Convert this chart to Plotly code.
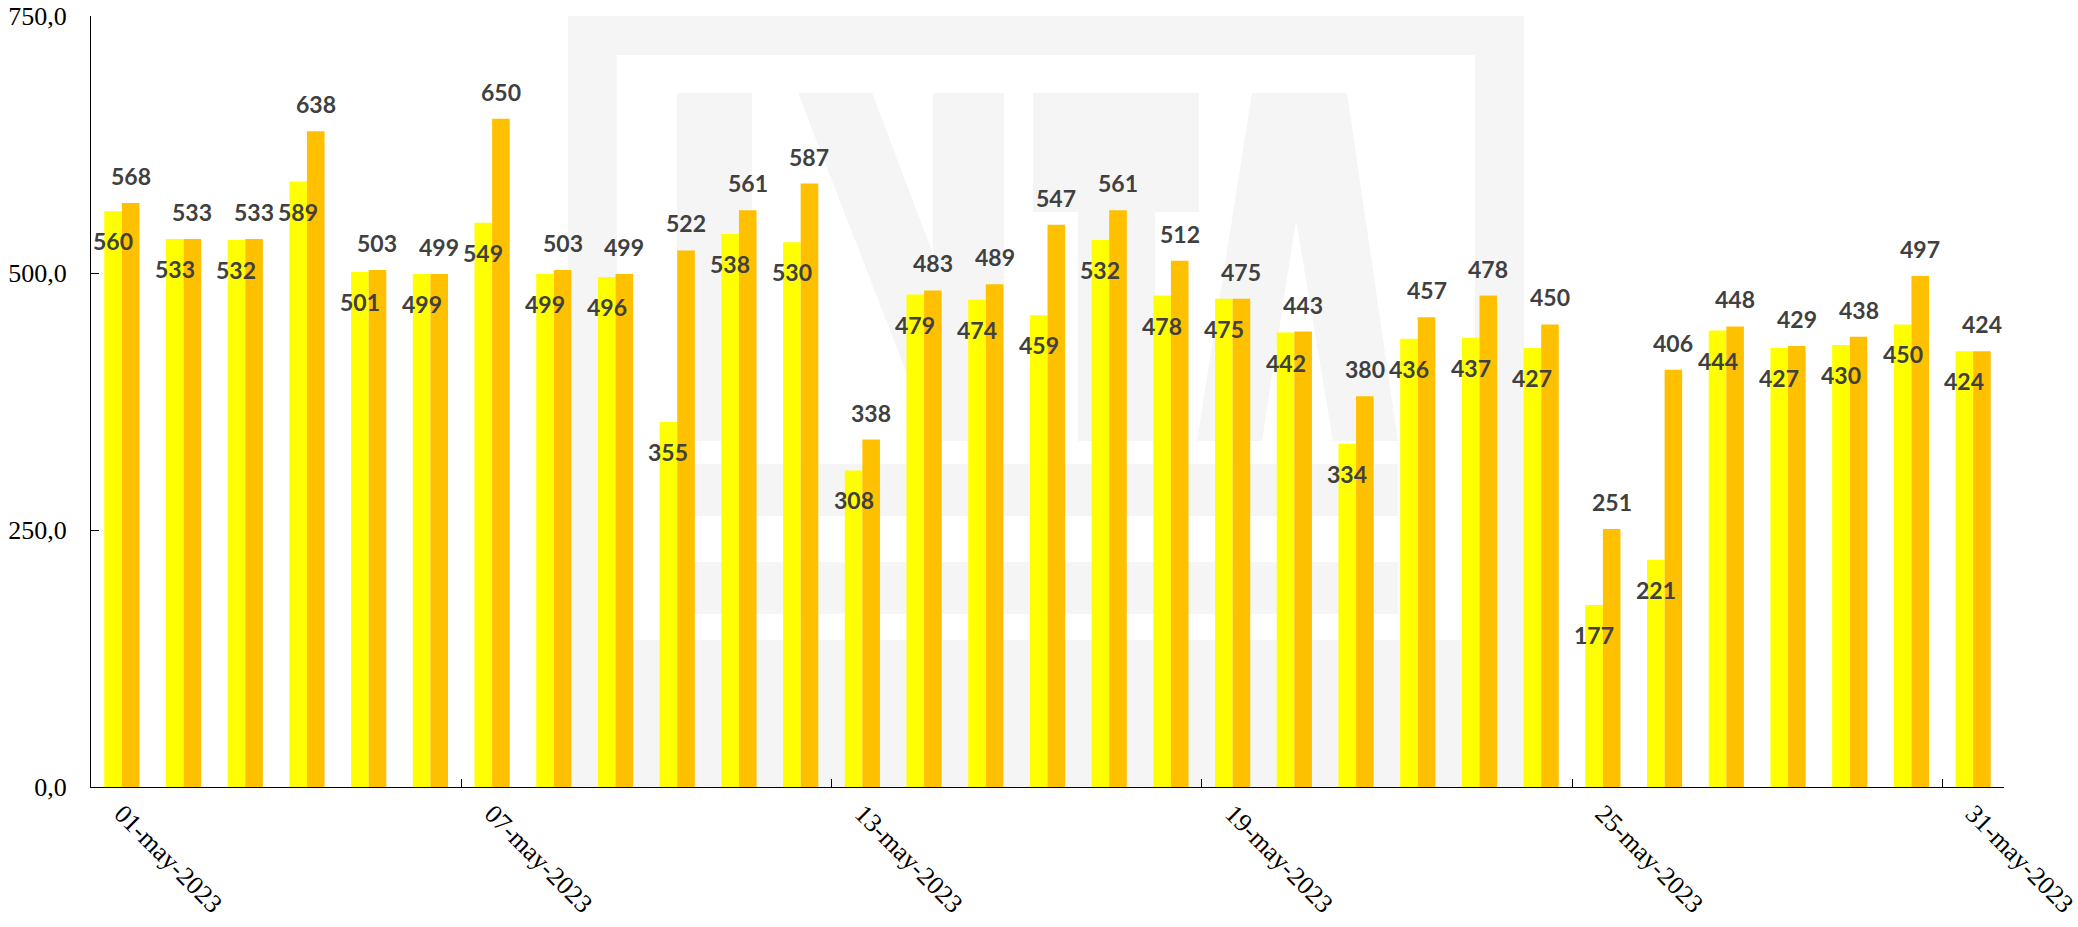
import plotly.graph_objects as go

# ---------------- data ----------------
dates = [
    "01-may-2023", "02-may-2023", "03-may-2023", "04-may-2023", "05-may-2023",
    "06-may-2023", "07-may-2023", "08-may-2023", "09-may-2023", "10-may-2023",
    "11-may-2023", "12-may-2023", "13-may-2023", "14-may-2023", "15-may-2023",
    "16-may-2023", "17-may-2023", "18-may-2023", "19-may-2023", "20-may-2023",
    "21-may-2023", "22-may-2023", "23-may-2023", "24-may-2023", "25-may-2023",
    "26-may-2023", "27-may-2023", "28-may-2023", "29-may-2023", "30-may-2023",
    "31-may-2023",
]
series_yellow = [560, 533, 532, 589, 501, 499, 549, 499, 496, 355,
                 538, 530, 308, 479, 474, 459, 532, 478, 475, 442,
                 334, 436, 437, 427, 177, 221, 444, 427, 430, 450, 424]
series_orange = [568, 533, 533, 638, 503, 499, 650, 503, 499, 522,
                 561, 587, 338, 483, 489, 547, 561, 512, 475, 443,
                 380, 457, 478, 450, 251, 406, 448, 429, 438, 497, 424]
shown_ticks = ["01-may-2023", "07-may-2023", "13-may-2023",
               "19-may-2023", "25-may-2023", "31-may-2023"]
y_ticks = [0, 250, 500, 750]

# ---------------- style ----------------
YELLOW = "#FFFF00"
ORANGE = "#FFC000"
LABEL_COLOR = "#404040"
WM = "#F5F5F5"
W, H = 2078, 927
ML, MR, MT, MB = 91, 74, 16, 140
BARGAP = 0.43

fig = go.Figure()
fig.add_bar(x=dates, y=series_yellow, marker=dict(color=YELLOW, line_width=0),
            name="serie 1", hoverinfo="x+y")
fig.add_bar(x=dates, y=series_orange, marker=dict(color=ORANGE, line_width=0),
            name="serie 2", hoverinfo="x+y")

# data labels
half = (1 - BARGAP) / 4.0
annos = []
lab_font = dict(family="Lato", size=23, color=LABEL_COLOR, weight="bold")
for i, (a, b) in enumerate(zip(series_yellow, series_orange)):
    annos.append(dict(x=i - half, y=a, xref="x", yref="y", text=str(a),
                      showarrow=False, yshift=-30, font=lab_font,
                      xanchor="center", yanchor="middle"))
    annos.append(dict(x=i + half, y=b, xref="x", yref="y", text=str(b),
                      showarrow=False, yshift=27, font=lab_font,
                      xanchor="center", yanchor="middle"))

# faint background watermark (decoration), pixel -> paper helper
pw = W - ML - MR
ph = H - MT - MB


def P(x, y):
    return ((x - ML) / pw, (H - MB - y) / ph)


def poly(pts, color):
    d = "M " + " L ".join(f"{P(x, y)[0]:.5f},{P(x, y)[1]:.5f}" for x, y in pts) + " Z"
    return dict(type="path", xref="paper", yref="paper", path=d,
                fillcolor=color, line_width=0, layer="below")


def rect(x0, y0, x1, y1, color):
    return poly([(x0, y0), (x1, y0), (x1, y1), (x0, y1)], color)


shapes = [
    rect(568, 16, 1524, 787, WM),          # outer frame
    rect(617, 55, 1475, 640, "#FFFFFF"),   # inner white
    rect(677, 93, 752, 441, WM),           # N left stem
    poly([(798, 93), (872, 93), (1004, 441), (933, 441)], WM),  # N diagonal
    rect(933, 93, 1004, 441, WM),          # N right stem
    rect(1033, 93, 1199, 212, WM),         # T bar
    rect(1078, 93, 1155, 441, WM),         # T stem
    poly([(1252, 93), (1347, 93), (1398, 441), (1197, 441)], WM),  # A
    poly([(1296, 220), (1333, 441), (1262, 441)], "#FFFFFF"),      # A counter
    rect(677, 464, 1398, 516, WM),         # stripes
    rect(677, 562, 1398, 614, WM),
]

fig.update_layout(
    width=W, height=H,
    margin=dict(l=ML, r=MR, t=MT, b=MB, pad=0),
    paper_bgcolor="white", plot_bgcolor="white",
    barmode="group", bargap=BARGAP, bargroupgap=0,
    showlegend=False,
    separators=",.",
    annotations=annos,
    shapes=shapes,
    xaxis=dict(
        type="category", tickmode="array", tickvals=shown_ticks,
        tickson="boundaries", ticks="inside", ticklen=8, tickcolor="black",
        tickwidth=1, showline=True, linecolor="black", linewidth=1,
        showgrid=False, tickangle=45, automargin=False,
        tickfont=dict(family="Liberation Serif", size=26, color="black"),
        ticklabelstandoff=0,
    ),
    yaxis=dict(
        range=[0, 750], tickmode="array", tickvals=y_ticks, tickformat=".1f",
        ticks="inside", ticklen=8, tickcolor="black", tickwidth=1,
        showline=True, linecolor="black", linewidth=1, showgrid=False,
        zeroline=False, automargin=False,
        tickfont=dict(family="Liberation Serif", size=26, color="black"),
        ticklabelstandoff=18,
    ),
)

fig.write_html("out.html", config={"displayModeBar": False},
               post_script="document.body.style.margin='0';document.body.style.overflow='hidden';")
